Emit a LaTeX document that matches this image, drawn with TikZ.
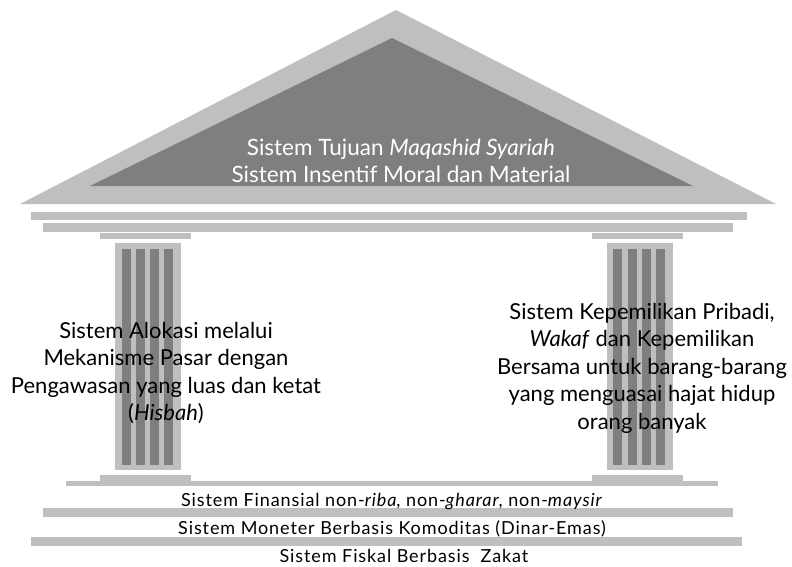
\documentclass[tikz,border=0pt]{standalone}
\usepackage{fontspec}
\setmainfont{Lato}
\newfontfamily\spacedfont[LetterSpace=5]{Lato}
\definecolor{lightg}{HTML}{BFBFBF}
\definecolor{darkg}{HTML}{7F7F7F}
\begin{document}
\begin{tikzpicture}[x=1pt,y=-1pt,
  lite/.style={fill=lightg,draw=none},
  dark/.style={fill=darkg,draw=none},
  rooftext/.style={text=white,font=\fontsize{22.5}{27}\selectfont,align=center,inner sep=0pt},
  coltext/.style={text=black,font=\fontsize{22}{27.5}\selectfont,align=center,inner sep=0pt},
  basetext/.style={text=black,font=\spacedfont\fontsize{18}{20}\selectfont,inner sep=0pt,anchor=base}]
\useasboundingbox (0,0) rectangle (792,567);
% roof
\fill[lite] (20,204) -- (396,10) -- (776,204) -- cycle;
\fill[dark] (90,186) -- (392,38) -- (693,186) -- cycle;
% entablature bars
\fill[lite] (31,212) rectangle (747,220);
\fill[lite] (43,223) rectangle (733,232);
% columns
\foreach \cx/\sx/\fa/\fb/\fc/\fd in {100/115/122/136/150/164, 592/607/613/628/642/656}{
  \fill[lite] (\cx,233) rectangle ++(91,6);
  \fill[lite] (\sx,243) rectangle ++(66,227);
  \foreach \f in {\fa,\fb,\fc,\fd}{\fill[dark] (\f,249) rectangle ++(9,216);}
  \fill[lite] (\cx,475) rectangle ++(91,6);
}
% base
\fill[lite] (66,481) rectangle (718,486);
\fill[lite] (43,508) rectangle (733,517);
\fill[lite] (31,537) rectangle (742,546);
% texts
\node[rooftext] (roof) at (401,161) {Sistem Tujuan \textit{Maqashid Syariah}\\ Sistem Insentif Moral dan Material};
\node[coltext] (left) at (166,373) {Sistem Alokasi melalui\\ Mekanisme Pasar dengan\\ Pengawasan yang luas dan ketat\\ (\textit{Hisbah})};
\node[coltext] (right) at (642,368) {Sistem Kepemilikan Pribadi,\\ \textit{Wakaf} dan Kepemilikan\\ Bersama untuk barang-barang\\ yang menguasai hajat hidup\\ orang banyak};
\node[basetext] (fin) at (392,506) {Sistem Finansial non-\textit{riba}, non-\textit{gharar}, non-\textit{maysir}};
\node[basetext] (mon) at (392,534) {Sistem Moneter Berbasis Komoditas (Dinar-Emas)};
\node[basetext] (fis) at (404,562) {Sistem Fiskal Berbasis\ \ Zakat};
\end{tikzpicture}
\end{document}
